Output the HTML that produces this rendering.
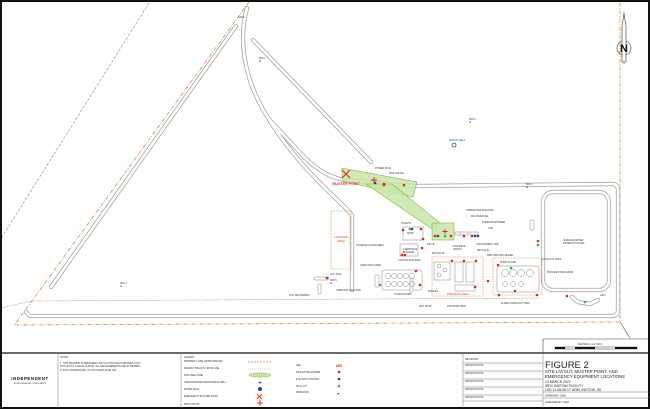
<!DOCTYPE html>
<html><head><meta charset="utf-8"><style>
html,body{margin:0;padding:0;background:#fff}
svg{display:block}
text{font-family:"Liberation Sans",sans-serif}
</style></head><body>
<svg width="650" height="409" viewBox="0 0 650 409" xmlns="http://www.w3.org/2000/svg">
<rect x="0" y="0" width="650" height="409" fill="#fff"/>
<!-- outer frame -->
<rect x="1" y="1" width="648" height="407" fill="none" stroke="#111" stroke-width="2"/>
<line x1="1" y1="353" x2="649" y2="353" stroke="#111" stroke-width="1.2"/>
<line x1="543" y1="339" x2="649" y2="339" stroke="#444" stroke-width="0.6"/>
<line x1="543" y1="339" x2="543" y2="353" stroke="#444" stroke-width="0.6"/>

<!-- grey dashed diagonal -->
<line x1="149" y1="3" x2="2" y2="237" stroke="#888" stroke-width="0.6" stroke-dasharray="3,1.5"/>
<!-- grey dashed rail -->
<path d="M2,308 L30,301 L540,298" fill="none" stroke="#999" stroke-width="0.6" stroke-dasharray="1.5,1"/>
<!-- property line -->
<path d="M249,2 L14.5,325 L620,322 L620,2" fill="none" stroke="#f07a3a" stroke-width="0.8" stroke-dasharray="4,1.5,1,1.5"/>
<path d="M620,322 L630,338" fill="none" stroke="#555" stroke-width="0.6"/>

<!-- roads (double line trick) -->
<g fill="none" stroke-linecap="round" stroke-linejoin="round">
<g stroke="#9a9a9a" stroke-width="4.2">
<line x1="236" y1="26" x2="51" y2="287"/>
<line x1="253" y1="40" x2="371" y2="162"/>
<path d="M247,8 C238,40 244,80 268,118 L305,158 C320,172 332,178 345,180"/>
<path d="M268,118 C300,170 340,200 352,215 L352,290"/>
<path d="M345,180 C380,183 400,186 420,186 L612,184 Q618,184 618,190 L618,310 Q618,316 612,316 L30,316 L26,312"/>
<rect x="543" y="192" width="66" height="98" rx="10"/>
<path d="M572,297 L578,302 L590,304 L598,300"/>
</g>
<g stroke="#fff" stroke-width="2.8">
<line x1="236" y1="26" x2="51" y2="287"/>
<line x1="253" y1="40" x2="371" y2="162"/>
<path d="M247,8 C238,40 244,80 268,118 L305,158 C320,172 332,178 345,180"/>
<path d="M268,118 C300,170 340,200 352,215 L352,290"/>
<path d="M345,180 C380,183 400,186 420,186 L612,184 Q618,184 618,190 L618,310 Q618,316 612,316 L30,316 L26,312"/>
<rect x="543" y="192" width="66" height="98" rx="10"/>
<path d="M572,297 L578,302 L590,304 L598,300"/>
</g>
</g>

<!-- green muster band -->
<g fill="#c9e6a8" fill-opacity="0.85" stroke="#7dbb45" stroke-width="0.6">
<polygon points="342,168 417,182 413,197 342,181"/>
<polygon points="366,184 392,184 440,223 432,229"/>
<rect x="432" y="223" width="22" height="17"/>
</g>

<!-- orange dashed areas -->
<g fill="none" stroke="#f07a3a" stroke-width="0.6" stroke-dasharray="1.5,1">
<rect x="331" y="211" width="20" height="58"/>
<rect x="432" y="257" width="51" height="39"/>
<rect x="493" y="258" width="49" height="37"/>
</g>
<text x="341" y="238" font-size="2.8" fill="#e04020" text-anchor="middle">LAYDOWN</text>
<text x="341" y="242" font-size="2.8" fill="#e04020" text-anchor="middle">AREA</text>
<text x="458" y="295" font-size="2.8" fill="#e04020" text-anchor="middle">PROCESS AREA</text>

<!-- buildings -->
<g fill="#fff" stroke="#888" stroke-width="0.5">
<rect x="403" y="227" width="20" height="13"/>
<rect x="400" y="244" width="18" height="12"/>
<rect x="382" y="270" width="40" height="20" rx="2"/>
<rect x="434" y="262" width="16" height="18"/>
<rect x="455" y="262" width="8" height="20"/>
<rect x="466" y="262" width="8" height="20"/>
<rect x="455" y="285" width="20" height="6"/>
<rect x="497" y="266" width="42" height="26" rx="2"/>
<rect x="455" y="232" width="6" height="3"/>
<rect x="460" y="232" width="8" height="3"/>
<rect x="470" y="232" width="8" height="3"/>
<rect x="314" y="277" width="15" height="3" rx="1.5"/>
<rect x="375" y="275" width="4" height="12" rx="1"/>
<rect x="410" y="278" width="3" height="14" rx="1"/>
<rect x="530" y="220" width="4" height="10" rx="1"/>
<rect x="318" y="284" width="3" height="10" rx="1"/>
</g>
<g fill="none" stroke="#888" stroke-width="0.5">
<circle cx="388" cy="276" r="2.5"/><circle cx="394" cy="276" r="2.5"/><circle cx="400" cy="276" r="2.5"/><circle cx="406" cy="276" r="2.5"/><circle cx="412" cy="276" r="2.5"/>
<circle cx="388" cy="284" r="2.5"/><circle cx="394" cy="284" r="2.5"/><circle cx="400" cy="284" r="2.5"/><circle cx="406" cy="284" r="2.5"/><circle cx="412" cy="284" r="2.5"/>
<circle cx="505" cy="273" r="3.5"/><circle cx="513" cy="273" r="3.5"/><circle cx="521" cy="273" r="3.5"/><circle cx="530" cy="273" r="3.5"/>
<circle cx="505" cy="284" r="2.5"/><circle cx="513" cy="284" r="2.5"/><circle cx="521" cy="284" r="2.5"/>
<circle cx="439" cy="266" r="2"/><circle cx="445" cy="270" r="2"/><circle cx="439" cy="275" r="2"/>
</g>

<!-- muster X -->
<g stroke="#e53020" stroke-width="1.2"><line x1="342" y1="170" x2="350" y2="178"/><line x1="350" y1="170" x2="342" y2="178"/></g>
<text x="346" y="185" font-size="3.6" font-weight="bold" fill="#e53020" text-anchor="middle">MUSTER POINT</text>

<!-- dots -->
<g fill="#e52020">
<circle cx="384" cy="184" r="1.3"/><circle cx="384" cy="185" r="1.3"/><circle cx="404" cy="185" r="1.3"/>
<circle cx="403" cy="230" r="1.3"/><circle cx="421" cy="229" r="1.3"/><circle cx="423" cy="239" r="1.3"/><circle cx="422" cy="248" r="1.3"/>
<circle cx="402" cy="255" r="1.3"/><circle cx="405" cy="255" r="1.3"/><circle cx="435" cy="236" r="1.3"/><circle cx="451" cy="236" r="1.3"/>
<circle cx="464" cy="236" r="1.3"/><circle cx="472" cy="236" r="1.3"/><circle cx="393" cy="301" r="0"/>
<circle cx="452" cy="261" r="1.3"/><circle cx="464" cy="261" r="1.3"/><circle cx="476" cy="261" r="1.3"/>
<circle cx="416" cy="271" r="1.3"/><circle cx="420" cy="285" r="1.3"/><circle cx="327" cy="278" r="1.3"/>
<circle cx="488" cy="281" r="1.3"/><circle cx="499" cy="295" r="1.3"/><circle cx="515" cy="291" r="1.3"/>
<circle cx="537" cy="295" r="1.3"/><circle cx="567" cy="296" r="1.3"/><circle cx="538" cy="241" r="1.3"/>
<circle cx="498" cy="265" r="1.3"/><circle cx="475" cy="287" r="1.3"/>
</g>
<g fill="#2040b0">
<circle cx="375" cy="183" r="1.3"/><circle cx="438" cy="236" r="1.3"/><circle cx="412" cy="229" r="1.3"/><circle cx="475" cy="236" r="1.3"/><circle cx="478" cy="236" r="1.3"/>
</g>
<g fill="#40b040">
<circle cx="410" cy="229" r="1.3"/><circle cx="445" cy="236" r="1.3"/><circle cx="380" cy="285" r="1.3"/><circle cx="511" cy="268" r="1.3"/><circle cx="538" cy="245" r="1.3"/><circle cx="585" cy="302" r="1.3"/>
</g>
<g stroke="#e52020" stroke-width="1"><line x1="374" y1="177" x2="374" y2="183"/><line x1="371" y1="180" x2="377" y2="180"/><line x1="445" y1="229" x2="445" y2="234"/><line x1="442.5" y1="231.5" x2="447.5" y2="231.5"/></g>

<!-- monitoring wells -->
<g fill="#2040b0" font-size="2.5">
<text x="259" y="59">MW-1</text><text x="259" y="62">✚</text>
<text x="469" y="120">MW-2</text><text x="469" y="123">✚</text>
<text x="526" y="185">MW-3</text><text x="526" y="188">✚</text>
<text x="120" y="284">MW-4</text><text x="120" y="287">✚</text>
<text x="330" y="281">MW-5</text><text x="330" y="284">✚</text>
<text x="449" y="141">WATER WELL</text>
</g>
<circle cx="454" cy="145" r="2" fill="none" stroke="#2040b0" stroke-width="0.8"/>

<!-- labels -->
<g font-size="2.4" fill="#333">
<text x="238" y="18">GATE</text>
<text x="375" y="169">POWER POLE</text>
<text x="389" y="174">SITE OFFICE</text>
<text x="466" y="211">OPERATIONS BUILDING</text>
<text x="471" y="217">MCC BUILDING</text>
<text x="482" y="223">EYEWASH/SHOWER</text>
<text x="488" y="229">LAB</text>
<text x="401" y="224">TOILETS</text>
<text x="407" y="234">SHOP</text>
<text x="356" y="246">STORAGE CONTAINERS</text>
<text x="403" y="250">CORROSIVE</text><text x="403" y="253">BUILDING</text>
<text x="398" y="261">CAUSTIC BUILDING</text>
<text x="427" y="245">PSC-B</text>
<text x="452" y="247">CONCRETE</text><text x="453" y="250">APRON</text>
<text x="476" y="245">CONTAINMENT PAD</text>
<text x="477" y="251">KETTLE #1</text>
<text x="432" y="254">KETTLE #2</text>
<text x="487" y="256">DEHYDRATOR VESSEL</text>
<text x="500" y="263">PUMP HOUSE</text>
<text x="360" y="266">USED TANK FARM</text>
<text x="330" y="275">LPG TANK</text>
<text x="336" y="291">USED OFF-LOAD PAD</text>
<text x="289" y="296">LPG VAPORIZERS</text>
<text x="394" y="295">ACCESS RAMP</text>
<text x="428" y="292">DOGLEG</text>
<text x="419" y="307">RAIL SPUR</text>
<text x="447" y="307">POLISHING BED</text>
<text x="501" y="304">FLARE KNOCKOUT TANK</text>
<text x="542" y="260">LOAD-OUT PADS</text>
<text x="547" y="273">PROCESS TANK FARM</text>
<text x="563" y="241">SURFACE WATER</text><text x="563" y="244">RETENTION POND</text>
<text x="600" y="296">ASLT</text>
</g>

<!-- north arrow -->
<g stroke="#333" stroke-width="0.6" fill="none">
<line x1="624" y1="12" x2="624" y2="64"/>
<circle cx="624" cy="48" r="7"/>
<path d="M622,26 L624,14 L626,26 L626,62 L622,62 Z" fill="#fff"/>
</g>
<text x="624" y="52" font-size="11" font-weight="bold" text-anchor="middle" fill="#111">N</text>

<!-- scale bar -->
<text x="590" y="345" font-size="2.8" text-anchor="middle" fill="#333">METRES (1:1,500)</text>
<rect x="555" y="347" width="82" height="2" fill="#fff" stroke="#111" stroke-width="0.4"/>
<rect x="555" y="347" width="10" height="2" fill="#111"/><rect x="575" y="347" width="20" height="2" fill="#111"/><rect x="615" y="347" width="22" height="2" fill="#111"/>

<!-- title block -->
<g stroke="#777" stroke-width="0.5">
<line x1="58" y1="353" x2="58" y2="408"/>
<line x1="181" y1="353" x2="181" y2="408"/>
<line x1="463" y1="353" x2="463" y2="408"/>
<line x1="543" y1="353" x2="543" y2="408"/>
<line x1="463" y1="363" x2="543" y2="363"/><line x1="463" y1="371" x2="543" y2="371"/><line x1="463" y1="379" x2="543" y2="379"/><line x1="463" y1="387" x2="543" y2="387"/><line x1="463" y1="395" x2="543" y2="395"/><line x1="463" y1="401" x2="543" y2="401"/>
<line x1="543" y1="392" x2="649" y2="392"/><line x1="543" y1="398" x2="649" y2="398"/>
</g>
<text x="30" y="380" font-size="4.3" font-weight="bold" text-anchor="middle" fill="#111" letter-spacing="0.6">INDEPENDENT</text>
<text x="30" y="384" font-size="2" text-anchor="middle" fill="#333">ENVIRONMENTAL CONSULTANTS</text>
<g font-size="2.4" fill="#333">
<text x="60" y="358">NOTES:</text>
<text x="60" y="364">1. THIS DRAWING IS PREPARED FOR ILLUSTRATIVE PURPOSES ONLY.</text>
<text x="60" y="367">THIS IS NOT A LEGAL SURVEY. ALL MEASUREMENTS ARE IN METRES.</text>
<text x="60" y="371">2. SITE COORDINATES: IN UTM NAD83 ZONE 13N</text>
<text x="184" y="358">LEGEND:</text>
<text x="184" y="362">PROPERTY LINE (APPROXIMATE)</text>
<text x="184" y="369">RAILWAY TRACKS / SPUR LINE</text>
<text x="184" y="376">PPE FREE ZONE</text>
<text x="184" y="383">GROUNDWATER MONITORING WELL</text>
<text x="184" y="390">WATER WELL</text>
<text x="184" y="397">EMERGENCY MUSTER POINT</text>
<text x="184" y="405">FIRST AID KIT</text>
<text x="296" y="366">AED</text>
<text x="296" y="373">FIRE EXTINGUISHER</text>
<text x="296" y="380">EYE WASH STATION</text>
<text x="296" y="387">SPILL KIT</text>
<text x="296" y="393">WINDSOCK</text>
<text x="465" y="360">REVISIONS:</text>
<text x="465" y="366">REVISION DATE</text><text x="465" y="374">REVISION DATE</text><text x="465" y="382">REVISION DATE</text><text x="465" y="390">REVISION DATE</text><text x="465" y="398">REVISION DATE</text>
</g>
<line x1="248" y1="362" x2="272" y2="362" stroke="#f07a3a" stroke-width="0.8" stroke-dasharray="2,1"/>
<line x1="248" y1="369" x2="272" y2="369" stroke="#999" stroke-width="0.6" stroke-dasharray="1,1"/>
<ellipse cx="260" cy="375" rx="11" ry="2" fill="#c9e6a8" stroke="#7dbb45" stroke-width="0.5"/>
<text x="260" y="384" font-size="4" fill="#2040b0" text-anchor="middle">✚</text>
<circle cx="260" cy="389" r="2" fill="#2040b0"/>
<g stroke="#e53020" stroke-width="1"><line x1="257" y1="394" x2="262" y2="399"/><line x1="262" y1="394" x2="257" y2="399"/><line x1="260" y1="400" x2="260" y2="406"/><line x1="257" y1="403" x2="263" y2="403"/></g>
<text x="339" y="367" font-size="3.2" font-weight="bold" fill="#e53020" text-anchor="middle">AED</text>
<circle cx="339" cy="372" r="1.3" fill="#e52020"/><circle cx="339" cy="379" r="1.3" fill="#2040b0"/><circle cx="339" cy="386" r="1.3" fill="#40b040"/>
<text x="337" y="395" font-size="3" fill="#333">⚑</text>

<g fill="#222">
<text x="545" y="368" font-size="9.5">FIGURE 2</text>
<text x="545" y="373" font-size="4.3">SITE LAYOUT, MUSTER POINT, AND</text>
<text x="545" y="378" font-size="4.3">EMERGENCY EQUIPMENT LOCATIONS</text>
<text x="545" y="383" font-size="3.4">24 MARCH 2022</text>
<text x="545" y="387" font-size="3.4">IRRC INSTOW FACILITY</text>
<text x="545" y="391" font-size="3.4">LSD 11-08-05-17 W3M, INSTOW, SK</text>
<text x="545" y="396.5" font-size="2.6">DRAWN BY: SAM</text>
<text x="545" y="403" font-size="2.6">CHECKED BY: SAM</text>
</g>
</svg>
</body></html>
